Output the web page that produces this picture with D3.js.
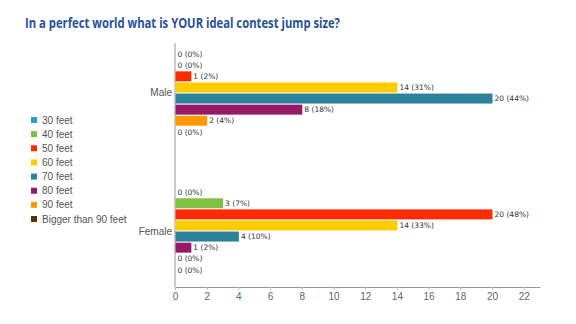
<!DOCTYPE html>
<html>
<head>
<meta charset="utf-8">
<script src="https://cdn.jsdelivr.net/npm/d3@7"></script>
<style>
  html, body { margin: 0; padding: 0; background: #fff; }
  svg { display: block; }
</style>
</head>
<body>
<svg id="chart" width="576" height="324"></svg>
<script>
const title = "In a perfect world what is YOUR ideal contest jump size?";
const categories = ["Male", "Female"];
const series = ["30 feet", "40 feet", "50 feet", "60 feet", "70 feet", "80 feet", "90 feet", "Bigger than 90 feet"];
const colors = ["#2F9AD6", "#7DC242", "#FF2A00", "#FFCC00", "#2E819B", "#961A66", "#FF9900", "#5A3212"];
const maleValues = [0, 0, 1, 14, 20, 8, 2, 0];
const malePercents = ["0%", "0%", "2%", "31%", "44%", "18%", "4%", "0%"];
const femaleValues = [0, 3, 20, 14, 4, 1, 0, 0];
const femalePercents = ["0%", "7%", "48%", "33%", "10%", "2%", "0%", "0%"];
const xTicks = [0, 2, 4, 6, 8, 10, 12, 14, 16, 18, 20, 22];

const valuesByCat = { "Male": maleValues, "Female": femaleValues };
const pctByCat = { "Male": malePercents, "Female": femalePercents };

const svg = d3.select("#chart");

// Title
const t = svg.append("text")
  .attr("x", 25).attr("y", 28)
  .attr("font-family", "'Open Sans', sans-serif")
  .attr("font-weight", "bold")
  .attr("font-size", 14.5)
  .attr("fill", "#26519C")
  .text(title);
const tw = t.node().getComputedTextLength();
if (tw > 315) t.attr("textLength", 315).attr("lengthAdjust", "spacingAndGlyphs");

const x = d3.scaleLinear().domain([0, 23]).range([175, 540]);
x.domain([0, (540 - 175) / ((492 - 175) / 20)]);

const y0 = d3.scaleBand().domain(categories).range([40, 284])
  .paddingInner(0.357).paddingOuter(0.0625);
const y1 = d3.scaleBand().domain(series).range([0, y0.bandwidth()])
  .paddingInner(0.1).paddingOuter(0.05);

// Axes
const xAxis = d3.axisBottom(x).tickValues(xTicks).tickSize(3).tickSizeOuter(0).tickPadding(3);
const gx = svg.append("g").attr("transform", "translate(0,287)").call(xAxis);
gx.select(".domain").attr("stroke", "#999");
gx.selectAll(".tick line").attr("stroke", "#bbb");
gx.selectAll(".tick text")
  .attr("font-family", "'Liberation Sans', Arial, sans-serif")
  .attr("font-size", 10).attr("fill", "#666");

svg.append("line")
  .attr("x1", x(0)).attr("x2", x(0))
  .attr("y1", 43).attr("y2", 287)
  .attr("stroke", "#999").attr("stroke-width", 1);

// Category labels
svg.selectAll(".cat").data(categories).enter().append("text")
  .attr("class", "cat")
  .attr("x", x(0) - 3)
  .attr("y", d => y0(d) + y0.bandwidth() / 2)
  .attr("dy", "0.35em")
  .attr("text-anchor", "end")
  .attr("font-family", "'Liberation Sans', Arial, sans-serif")
  .attr("font-size", 10).attr("fill", "#555")
  .text(d => d);

// Bars
const groups = svg.selectAll(".grp").data(categories).enter().append("g")
  .attr("class", "grp")
  .attr("transform", d => `translate(0,${y0(d)})`);

groups.each(function(cat) {
  const g = d3.select(this);
  const rows = series.map((s, i) => ({ s, i, v: valuesByCat[cat][i], p: pctByCat[cat][i] }));
  g.selectAll("rect").data(rows.filter(r => r.v > 0)).enter().append("rect")
    .attr("x", x(0) + 0.5)
    .attr("y", r => y1(r.s))
    .attr("width", r => x(r.v) - x(0))
    .attr("height", y1.bandwidth())
    .attr("fill", r => colors[r.i]);
  g.selectAll("text").data(rows).enter().append("text")
    .attr("x", r => x(r.v) + 2.5)
    .attr("y", r => y1(r.s) + y1.bandwidth() / 2)
    .attr("dy", "0.36em")
    .attr("font-family", "'DejaVu Sans', sans-serif")
    .attr("font-size", 7.5).attr("fill", "#333")
    .text(r => `${r.v} (${r.p})`);
});

// Legend
const legend = svg.append("g");
const ly = d3.scalePoint().domain(series).range([120, 219]);
const li = legend.selectAll(".li").data(series).enter().append("g")
  .attr("transform", d => `translate(31,${ly(d)})`);
li.append("rect").attr("x", 0).attr("y", -3).attr("width", 6).attr("height", 6)
  .attr("fill", (d, i) => colors[i]);
li.append("text").attr("x", 11).attr("y", 0).attr("dy", "0.35em")
  .attr("font-family", "'Liberation Sans', Arial, sans-serif")
  .attr("font-size", 10).attr("fill", "#555")
  .text(d => d);
</script>
</body>
</html>
